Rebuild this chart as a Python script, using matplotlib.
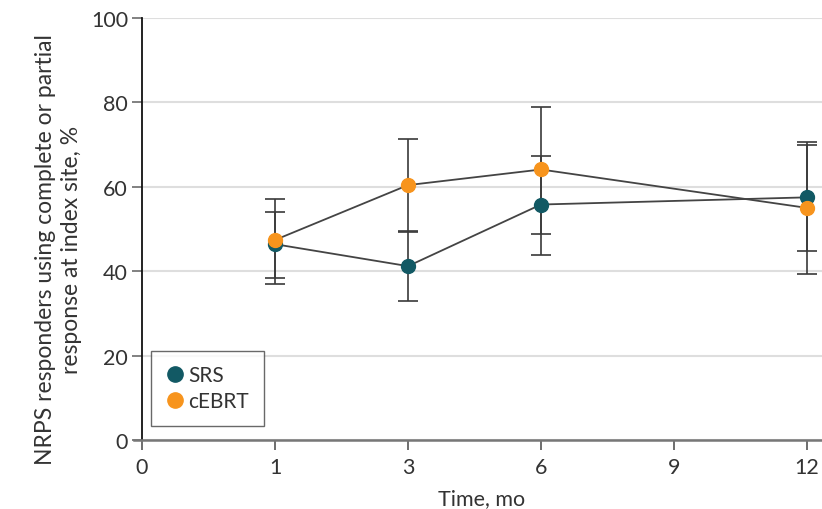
import matplotlib
matplotlib.use("Agg")
import matplotlib.pyplot as plt
from matplotlib.lines import Line2D

plt.rcParams['font.family'] = ['Lato', 'DejaVu Sans']

# data
months = ["0", "1", "3", "6", "9", "12"]
time_pts = [1, 2, 3, 5]          # category positions for 1, 3, 6, 12 mo
srs_val = [46.4, 41.2, 55.8, 57.5]
srs_lo = [38.5, 33.0, 43.9, 44.9]
srs_hi = [54.1, 49.5, 67.4, 70.5]
cebrt_val = [47.4, 60.4, 64.1, 55.0]
cebrt_lo = [36.9, 49.4, 48.9, 39.3]
cebrt_hi = [57.2, 71.3, 79.0, 70.0]

srs_col = "#125964"
cebrt_col = "#f7941d"

fig = plt.figure(figsize=(8.22, 5.10), dpi=100)
ax = fig.add_axes([142/822, 69/510, 680/822, 422/510])

def draw_series(vals, lo, hi, col, z):
    yerr = [[v - l for v, l in zip(vals, lo)], [h - v for v, h in zip(vals, hi)]]
    ax.errorbar(time_pts, vals, yerr=yerr, fmt="none", ecolor="#3a3a3a",
                elinewidth=1.2, capsize=7, capthick=1.2, zorder=2)
    ax.plot(time_pts, vals, color="#444444", lw=1.3, zorder=3)
    ax.plot(time_pts, vals, "o", color=col, ms=10, mec=col, zorder=z)

draw_series(srs_val, srs_lo, srs_hi, srs_col, 4)
draw_series(cebrt_val, cebrt_lo, cebrt_hi, cebrt_col, 5)

ax.set_xlim(0, 680/133)
ax.set_ylim(0, 100)
ax.set_xticks(range(len(months)))
ax.set_xticklabels(months)
ax.set_yticks([0, 20, 40, 60, 80, 100])

ax.grid(axis="y", color="#dedede", lw=1.5)
ax.set_axisbelow(True)
for s in ["top", "right"]:
    ax.spines[s].set_visible(False)
ax.spines["left"].set_color("#111111")
ax.spines["left"].set_linewidth(1.3)
ax.spines["bottom"].set_color("#777777")
ax.spines["bottom"].set_linewidth(1.8)
ax.spines["bottom"].set_bounds(-0.06, 680/133)

ax.tick_params(axis="y", length=7, width=1.3, color="#777777", labelsize=15.5,
               labelcolor="#333333", pad=3)
ax.tick_params(axis="x", length=7, width=1.2, color="#555555", labelsize=15.5,
               labelcolor="#333333", pad=5)

ax.set_xlabel("Time, mo", fontsize=15.5, color="#333333", labelpad=8)
ax.set_ylabel("NRPS responders using complete or partial\nresponse at index site, %",
              fontsize=16.5, color="#333333", linespacing=1.3)
ax.yaxis.set_label_coords(-0.088, 0.453)

handles = [Line2D([], [], ls="none", marker="o", ms=11, color=srs_col),
           Line2D([], [], ls="none", marker="o", ms=11, color=cebrt_col)]
leg = ax.legend(handles, ["SRS", "cEBRT"], loc="lower left",
                bbox_to_anchor=(9/680, 14/422), fontsize=15, frameon=True,
                fancybox=False, edgecolor="#444444", handletextpad=0.2,
                borderpad=0.7, handlelength=0.9, labelspacing=0.3,
                borderaxespad=0)
leg.get_frame().set_linewidth(1.0)
for t in leg.get_texts():
    t.set_color("#333333")
leg.set_zorder(10)

fig.savefig("out.png", dpi=100)
